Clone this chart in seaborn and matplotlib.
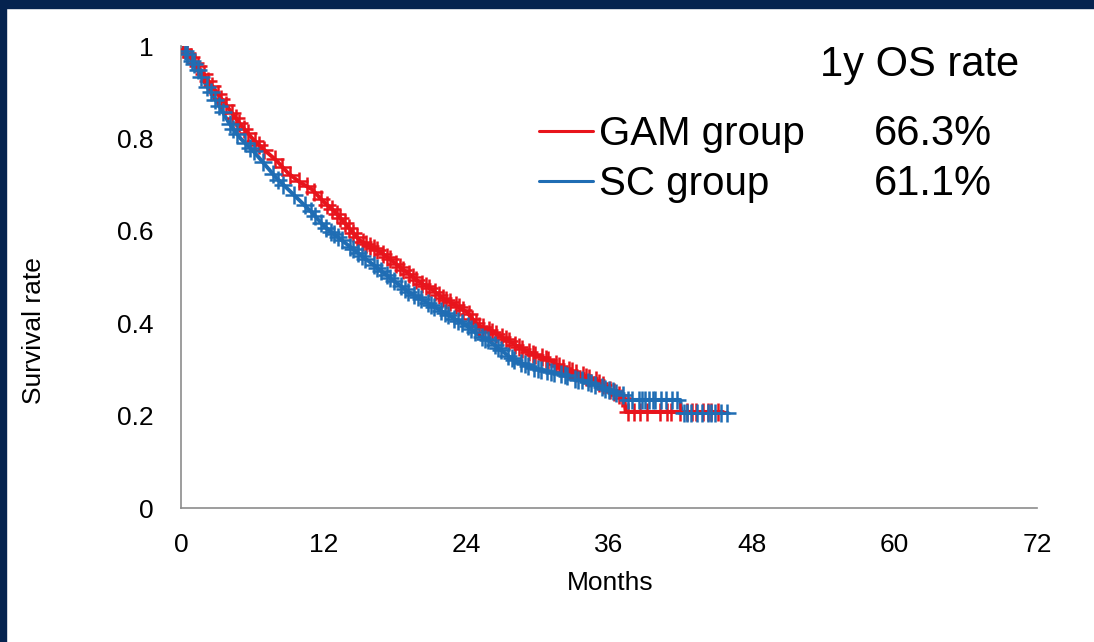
import numpy as np
import pandas as pd
import matplotlib
matplotlib.use("Agg")
import matplotlib.pyplot as plt
from matplotlib.lines import Line2D
from matplotlib.patches import Rectangle
import seaborn as sns

# Kaplan-Meier estimates (months, survival probability)
gam_time = [0, 1, 2, 3, 4, 5, 6, 7, 8, 9, 10, 11, 12, 13, 14, 15, 16, 17, 18, 19,
            20, 21, 22, 23, 24, 25, 26, 27, 28, 29, 30, 31, 32, 33, 34, 35, 36,
            36.8, 37.3, 37.4, 45.6]
gam_surv = [1.0, 0.97, 0.935, 0.90, 0.865, 0.83, 0.80, 0.775, 0.753, 0.725, 0.705,
            0.69, 0.663, 0.64, 0.61, 0.58, 0.565, 0.55, 0.53, 0.51, 0.49, 0.475,
            0.455, 0.44, 0.425, 0.395, 0.385, 0.37, 0.355, 0.34, 0.33, 0.32, 0.305,
            0.295, 0.285, 0.275, 0.258, 0.245, 0.235, 0.208, 0.208]

sc_time = [0, 1, 2, 3, 4, 5, 6, 7, 8, 9, 10, 11, 12, 13, 14, 15, 16, 17, 18, 19,
           20, 21, 22, 23, 24, 25, 26, 27, 28, 29, 30, 31, 32, 33, 34, 35, 36,
           37.2, 37.3, 42.0, 42.1, 46.0]
sc_surv = [1.0, 0.965, 0.92, 0.88, 0.835, 0.80, 0.775, 0.745, 0.715, 0.69, 0.665,
           0.64, 0.611, 0.59, 0.57, 0.55, 0.53, 0.51, 0.49, 0.47, 0.455, 0.44,
           0.425, 0.41, 0.395, 0.375, 0.36, 0.34, 0.32, 0.31, 0.30, 0.295, 0.29,
           0.28, 0.275, 0.265, 0.255, 0.245, 0.234, 0.234, 0.206, 0.206]

# Censored observations (months)
gam_censor = [0.2, 0.5, 0.8, 1.2, 1.4, 1.9, 2.3, 2.6, 3.1, 3.4, 3.8, 4.3, 4.6,
              4.9, 5.3, 5.6, 6.2, 6.6, 7.0, 7.9, 8.5, 9.2, 9.9, 10.6, 11.2, 11.8,
              12.3, 12.7, 13.1, 13.4, 13.8, 14.1, 14.5, 14.8, 15.3, 15.6, 15.9,
              16.2, 16.5, 17.0, 17.3, 17.6, 18.1, 18.4, 18.7, 19.2, 19.5, 19.8,
              20.3, 20.6, 20.9, 21.4, 21.7, 22.0, 22.3, 22.6, 23.1, 23.4, 23.7,
              24.2, 24.5, 24.8, 25.1, 25.4, 25.9, 26.2, 26.5, 27.0, 27.3, 27.6,
              28.1, 28.4, 28.7, 29.3, 29.6, 29.8, 30.4, 30.7, 30.9, 31.5, 31.8,
              32.1, 32.6, 32.9, 33.2, 33.8, 34.1, 34.3, 34.9, 35.2, 35.5, 36.1,
              36.4, 36.8, 37.1, 37.6, 38.1, 38.6, 39.2, 40.3, 40.9, 41.2, 42.0,
              42.6, 43.0, 43.3, 43.9, 44.3, 44.6, 45.2]
sc_censor = [0.3, 0.5, 0.9, 1.1, 1.4, 1.7, 2.2, 2.5, 2.9, 3.2, 3.5, 4.1, 4.4,
             4.7, 5.4, 5.8, 6.1, 6.9, 7.7, 8.2, 8.6, 9.5, 10.4, 10.9, 11.3, 11.8,
             12.2, 12.6, 12.9, 13.2, 13.5, 14.2, 14.5, 14.9, 15.2, 15.5, 16.2,
             16.5, 16.8, 17.3, 17.6, 17.9, 18.5, 18.8, 19.1, 19.6, 19.9, 20.2,
             20.8, 21.0, 21.3, 21.9, 22.2, 22.5, 23.0, 23.3, 23.6, 24.1, 24.4,
             24.7, 25.3, 25.6, 25.8, 26.4, 26.7, 26.9, 27.5, 27.8, 28.0, 28.6,
             28.9, 29.2, 29.7, 30.0, 30.3, 30.8, 31.1, 31.4, 32.0, 32.3, 32.5,
             33.1, 33.4, 33.7, 34.2, 34.5, 34.8, 35.4, 35.7, 36.0, 36.3, 36.6,
             37.2, 37.6, 37.9, 38.5, 38.8, 39.0, 39.4, 39.7, 39.9, 40.4, 40.8,
             41.3, 41.7, 42.3, 42.6, 42.9, 43.4, 43.8, 44.3, 44.6, 44.9, 45.4,
             45.9]

group_names = ["GAM group", "SC group"]
one_year_rate = ["66.3%", "61.1%"]
x_ticks = [0, 12, 24, 36, 48, 60, 72]
y_ticks = [0, 0.2, 0.4, 0.6, 0.8, 1]
y_tick_labels = ["0", "0.2", "0.4", "0.6", "0.8", "1"]

RED = "#e8141c"
BLUE = "#1f6db4"
NAVY = "#05234f"
AXIS_GREY = "#8c8c8c"

sns.set_theme(style="white")
plt.rcParams["font.family"] = ["Liberation Sans", "DejaVu Sans"]

fig = plt.figure(figsize=(10.94, 6.42), dpi=100, facecolor="white")
W, H = 1094, 642
ax = fig.add_axes([181 / W, 1 - 508 / H, (1037 - 181) / W, (508 - 46) / H])
ax.set_facecolor("white")

curves = pd.concat([
    pd.DataFrame({"Months": gam_time, "Survival": gam_surv, "group": group_names[0]}),
    pd.DataFrame({"Months": sc_time, "Survival": sc_surv, "group": group_names[1]}),
], ignore_index=True)

palette = {group_names[0]: RED, group_names[1]: BLUE}
sns.lineplot(data=curves, x="Months", y="Survival", hue="group", palette=palette,
             linewidth=2.8, sort=False, estimator=None, legend=False, ax=ax)

# censoring ticks sit on their curve
for times, t_c, s_c, color in [(gam_censor, gam_time, gam_surv, RED),
                               (sc_censor, sc_time, sc_surv, BLUE)]:
    y_c = np.interp(times, t_c, s_c)
    sns.scatterplot(x=times, y=y_c, marker="+", s=170, color=color,
                    linewidth=1.8, ax=ax, zorder=3)

ax.set_xlim(0, 72)
ax.set_ylim(0, 1)
ax.set_xticks(x_ticks)
ax.set_xticklabels([str(v) for v in x_ticks])
ax.set_yticks(y_ticks)
ax.set_yticklabels(y_tick_labels)
ax.tick_params(axis="both", which="major", labelsize=19, colors=AXIS_GREY,
               labelcolor="black", direction="out", length=7, width=1.2)
ax.tick_params(axis="y", pad=13)
ax.tick_params(axis="x", pad=11)
for side in ["top", "right"]:
    ax.spines[side].set_visible(False)
for side in ["left", "bottom"]:
    ax.spines[side].set_color(AXIS_GREY)
    ax.spines[side].set_linewidth(1.2)

ax.set_xlabel("Months", fontsize=19, color="black")
ax.set_ylabel("Survival rate", fontsize=19, color="black")
ax.xaxis.set_label_coords(0.501, -0.136)
ax.yaxis.set_label_coords(-0.158, 0.383)

# legend block with 1-year overall survival
def fx(px):
    return px / W

def fy(py):
    return 1 - py / H

fig.text(fx(820), fy(76), "1y OS rate", fontsize=30, color="black", va="baseline")
for i, (name, rate, color) in enumerate(zip(group_names, one_year_rate, [RED, BLUE])):
    base = 145 + i * 50
    mid = 131 + i * 50
    fig.add_artist(Line2D([fx(539), fx(593)], [fy(mid), fy(mid)], color=color,
                          linewidth=2.2))
    fig.text(fx(599), fy(base), name, fontsize=29, color="black", va="baseline")
    fig.text(fx(874), fy(base), rate, fontsize=30, color="black", va="baseline")

# slide frame
fig.add_artist(Rectangle((0, fy(8)), 1, 8 / H, transform=fig.transFigure,
                         color=NAVY, zorder=10))
fig.add_artist(Rectangle((0, 0), 6 / W, 1, transform=fig.transFigure,
                         color=NAVY, zorder=10))

fig.savefig("out.png", dpi=100, facecolor="white")
